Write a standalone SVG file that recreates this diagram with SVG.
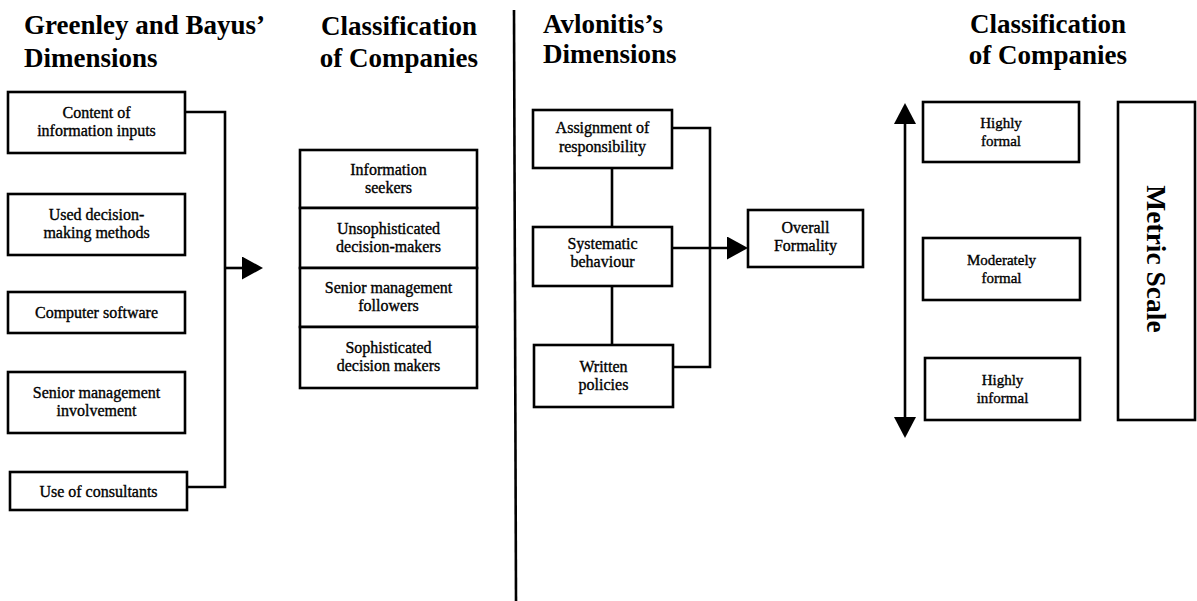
<svg xmlns="http://www.w3.org/2000/svg" width="1197" height="601" viewBox="0 0 1197 601">
<style>
  .box{fill:#fff;stroke:#000;stroke-width:2.6}
  .ln{fill:none;stroke:#000;stroke-width:2.6}
  .ttl{font-family:"Liberation Serif","Times New Roman",serif;font-weight:bold;font-size:27px;fill:#000}
  .t{font-family:"Liberation Serif","Times New Roman",serif;font-size:16px;fill:#000;stroke:#000;stroke-width:0.35;text-anchor:middle}
  .ts{font-size:15px}
</style>
<defs>
  <marker id="ah" viewBox="0 0 21 23" markerWidth="21" markerHeight="23" refX="0" refY="11.5" orient="auto" markerUnits="userSpaceOnUse">
    <path d="M0,0 L21,11.5 L0,23 z" fill="#000"/>
  </marker>
  <marker id="ah2" viewBox="0 0 21 22" markerWidth="21" markerHeight="22" refX="0" refY="11" orient="auto-start-reverse" markerUnits="userSpaceOnUse">
    <path d="M0,0 L21,11 L0,22 z" fill="#000"/>
  </marker>
</defs>
<rect width="1197" height="601" fill="#fff"/>

<g id="titles">
  <text class="ttl" x="24" y="34">Greenley and Bayus’</text>
  <text class="ttl" x="24" y="67">Dimensions</text>
  <text class="ttl" x="399" y="35" text-anchor="middle">Classification</text>
  <text class="ttl" x="399" y="67" text-anchor="middle">of Companies</text>
  <text class="ttl" x="543" y="33">Avlonitis’s</text>
  <text class="ttl" x="543" y="63">Dimensions</text>
  <text class="ttl" x="1048" y="33" text-anchor="middle">Classification</text>
  <text class="ttl" x="1048" y="64" text-anchor="middle">of Companies</text>
</g>

<g id="connectors">
  <path class="ln" d="M514,10 L516,601"/>
  <path class="ln" d="M185,112 H225 V487 H187"/>
  <path class="ln" d="M225,268 H242" marker-end="url(#ah)"/>
  <path class="ln" d="M672,128 H710 V367 H673"/>
  <path class="ln" d="M612,168 V227 M612,286 V345"/>
  <path class="ln" d="M672,248 H727" marker-end="url(#ah)"/>
  <path class="ln" d="M905,124 V417" marker-start="url(#ah2)" marker-end="url(#ah2)"/>
</g>

<g id="g-content">
  <rect class="box" x="8" y="92" width="177" height="61"/>
  <text class="t" x="96.5" y="118">Content of</text>
  <text class="t" x="96.5" y="136">information inputs</text>
</g>
<g id="g-methods">
  <rect class="box" x="8" y="194" width="177" height="61"/>
  <text class="t" x="96.5" y="220">Used decision-</text>
  <text class="t" x="96.5" y="238">making methods</text>
</g>
<g id="g-software">
  <rect class="box" x="8" y="292" width="177" height="41"/>
  <text class="t" x="96.5" y="318">Computer software</text>
</g>
<g id="g-senior">
  <rect class="box" x="8" y="372" width="177" height="61"/>
  <text class="t" x="96.5" y="398">Senior management</text>
  <text class="t" x="96.5" y="416">involvement</text>
</g>
<g id="g-consultants">
  <rect class="box" x="10" y="472" width="177" height="38"/>
  <text class="t" x="98.5" y="497">Use of consultants</text>
</g>

<g id="c-seekers">
  <rect class="box" x="300" y="150" width="177" height="58"/>
  <text class="t" x="388.5" y="175">Information</text>
  <text class="t" x="388.5" y="193">seekers</text>
</g>
<g id="c-unsoph">
  <rect class="box" x="300" y="208" width="177" height="60"/>
  <text class="t" x="388.5" y="234">Unsophisticated</text>
  <text class="t" x="388.5" y="252">decision-makers</text>
</g>
<g id="c-followers">
  <rect class="box" x="300" y="268" width="177" height="59"/>
  <text class="t" x="388.5" y="293">Senior management</text>
  <text class="t" x="388.5" y="311">followers</text>
</g>
<g id="c-soph">
  <rect class="box" x="300" y="327" width="177" height="61"/>
  <text class="t" x="388.5" y="353">Sophisticated</text>
  <text class="t" x="388.5" y="371">decision makers</text>
</g>

<g id="a-assign">
  <rect class="box" x="533" y="110" width="139" height="58"/>
  <text class="t" x="602.5" y="133">Assignment of</text>
  <text class="t" x="602.5" y="152">responsibility</text>
</g>
<g id="a-system">
  <rect class="box" x="533" y="227" width="139" height="59"/>
  <text class="t" x="602.5" y="249">Systematic</text>
  <text class="t" x="602.5" y="267">behaviour</text>
</g>
<g id="a-written">
  <rect class="box" x="534" y="345" width="139" height="62"/>
  <text class="t" x="603.5" y="372">Written</text>
  <text class="t" x="603.5" y="390">policies</text>
</g>
<g id="a-overall">
  <rect class="box" x="748" y="210" width="115" height="57"/>
  <text class="t" x="805.5" y="233">Overall</text>
  <text class="t" x="805.5" y="251">Formality</text>
</g>

<g id="r-hformal">
  <rect class="box" x="923" y="102" width="156" height="60"/>
  <text class="t ts" x="1001" y="128">Highly</text>
  <text class="t ts" x="1001" y="146">formal</text>
</g>
<g id="r-mformal">
  <rect class="box" x="923" y="238" width="157" height="62"/>
  <text class="t ts" x="1001.5" y="265">Moderately</text>
  <text class="t ts" x="1001.5" y="283">formal</text>
</g>
<g id="r-hinformal">
  <rect class="box" x="925" y="358" width="155" height="62"/>
  <text class="t ts" x="1002.5" y="385">Highly</text>
  <text class="t ts" x="1002.5" y="403">informal</text>
</g>
<g id="r-metric">
  <rect class="box" x="1118" y="102" width="77" height="318"/>
  <text class="ttl" transform="translate(1147,259) rotate(90)" text-anchor="middle" style="font-size:27.5px">Metric Scale</text>
</g>
</svg>
